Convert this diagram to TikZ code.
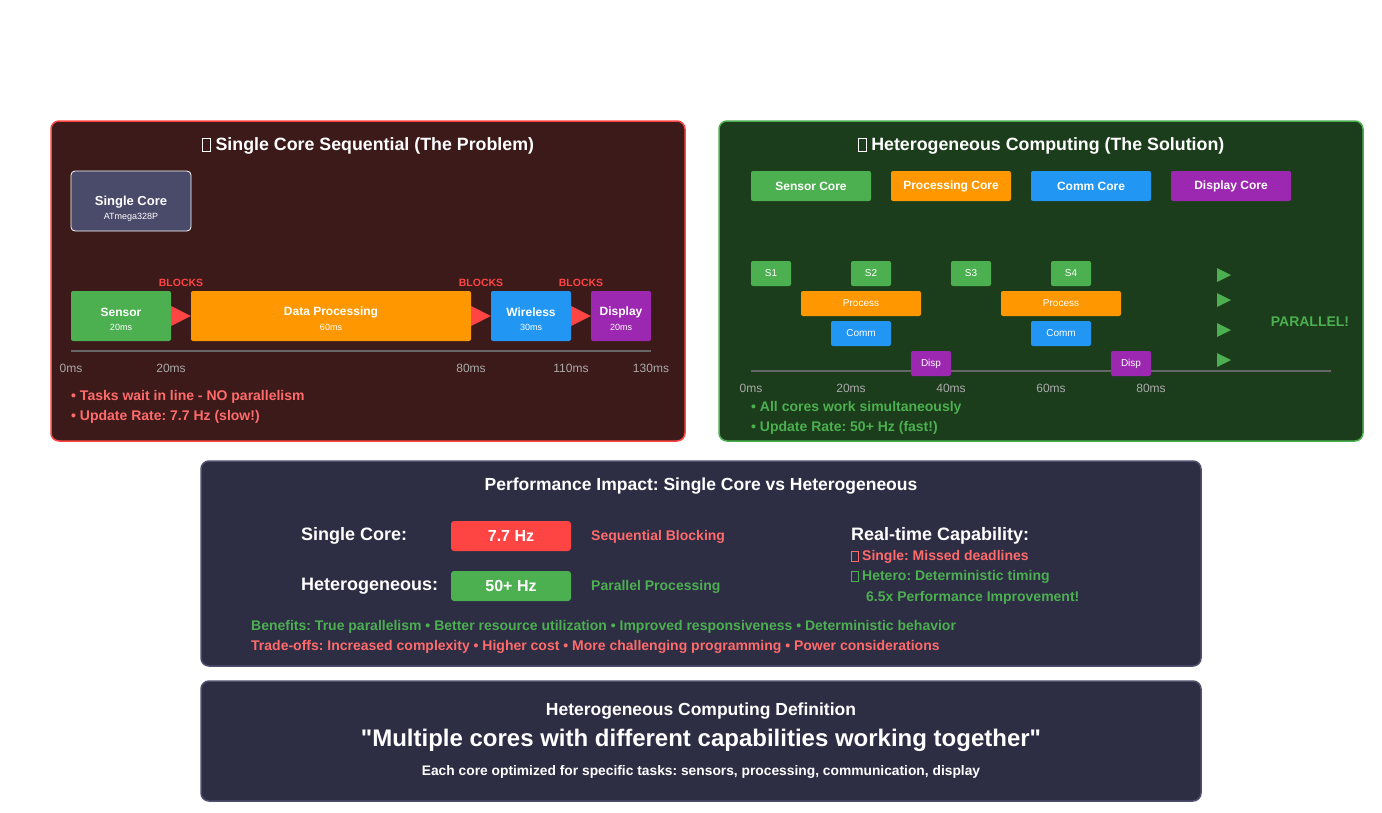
\documentclass[tikz,border=0pt]{standalone}
\usepackage{fontspec}
\setmainfont{Liberation Sans}[Ligatures=TeXOff]
\usetikzlibrary{positioning,calc}
\frenchspacing

\definecolor{redpanel}{HTML}{3C1A1A}
\definecolor{redline}{HTML}{FF4444}
\definecolor{redtext}{HTML}{FF6B6B}
\definecolor{greenpanel}{HTML}{1B3D1B}
\definecolor{taskgreen}{HTML}{4CAF50}
\definecolor{taskorange}{HTML}{FF9800}
\definecolor{taskblue}{HTML}{2196F3}
\definecolor{taskpurple}{HTML}{9C27B0}
\definecolor{navypanel}{HTML}{2D2D44}
\definecolor{navyline}{HTML}{50506E}
\definecolor{corebox}{HTML}{4A4A6A}
\definecolor{axisgray}{HTML}{666666}
\definecolor{ticktext}{HTML}{AAAAAA}

\newcommand{\px}[1]{\fontsize{#1}{#1}\selectfont}
\newcommand{\tofu}{\raisebox{-0.05em}{\fboxsep=0pt\fboxrule=0.6pt\fbox{\phantom{\rule{0.42em}{0.72em}}}}}

\tikzset{
  panel/.style={line width=1.5pt, rounded corners=8pt},
  box/.style={rounded corners=2pt, inner sep=0pt, text=white},
  lbl/.style={inner sep=0pt, text=white, font=\bfseries\px{12}},
  ptitle/.style={lbl, font=\bfseries\px{17.8}},
  tick/.style={inner sep=0pt, text=ticktext, font=\px{12}},
  note/.style={inner sep=0pt, anchor=west, font=\bfseries\px{14}},
  axis/.style={axisgray, line width=2pt}
}

\begin{document}
\begin{tikzpicture}[x=1pt, y=-1pt]
  \useasboundingbox[fill=white] (0,0) rectangle (1382,812);

  % Left panel: single core
  \draw[panel, draw=redline, fill=redpanel] (51,121) rectangle (685,441);
  \node[ptitle] (ltitle) at (368,146) {\tofu{} Single Core Sequential (The Problem)};

  \node[box, draw=white, line width=0.8pt, rounded corners=4pt, fill=corebox,
        minimum width=120, minimum height=60] (single) at (131,201) {};
  \node[lbl, font=\bfseries\px{13}] (single-name) at (131,202) {Single Core};
  \node[lbl, font=\px{9}] (single-chip) at (131,217) {ATmega328P};

  \foreach \nm/\txt/\t/\cx/\w/\col in {sens/Sensor/20ms/121/100/taskgreen,
      proc/Data Processing/60ms/331/280/taskorange,
      wire/Wireless/30ms/531/80/taskblue,
      disp/Display/20ms/621/60/taskpurple} {
    \node[box, fill=\col, minimum width=\w, minimum height=50] (\nm) at (\cx,316) {};
    \node[lbl] (\nm-name) at (\cx,312) {\txt};
    \node[lbl, font=\px{9}] (\nm-time) at (\cx,327) {\t};
  }

  % blocking arrows
  \foreach \a/\b in {sens/proc, proc/wire, wire/disp}
    \fill[redline] ($(\a.east)+(0,-10)$) -- (\b.west) -- ($(\a.east)+(0,10)$) -- cycle;
  \foreach \nm/\cx in {blk1/181, blk2/481, blk3/581}
    \node[inner sep=0pt, text=redline, font=\bfseries\px{10.5}] (\nm) at (\cx,283) {BLOCKS};

  \draw[axis] (71,351) -- (651,351);
  \foreach \nm/\cx/\t in {lt0/71/0ms, lt1/171/20ms, lt2/471/80ms, lt3/571/110ms, lt4/651/130ms}
    \node[tick] (\nm) at (\cx,368) {\t};

  \node[note, text=redtext] (lnote1) at (71,397) {\textbullet{} Tasks wait in line - NO parallelism};
  \node[note, text=redtext] (lnote2) at (71,417) {\textbullet{} Update Rate: 7.7 Hz (slow!)};

  % Right panel: heterogeneous
  \draw[panel, draw=taskgreen, fill=greenpanel] (719,121) rectangle (1363,441);
  \node[ptitle] (rtitle) at (1041,146) {\tofu{} Heterogeneous Computing (The Solution)};

  \foreach \nm/\txt/\cx/\col in {csens/Sensor Core/811/taskgreen,
      cproc/Processing Core/951/taskorange,
      ccomm/Comm Core/1091/taskblue,
      cdisp/Display Core/1231/taskpurple}
    \node[box, fill=\col, minimum width=120, minimum height=30, font=\bfseries\px{12}] (\nm) at (\cx,186) {\txt};

  \draw[axis] (751,371) -- (1331,371);
  \foreach \nm/\txt/\cx/\cy/\w/\col in {s1/S1/771/273.5/40/taskgreen, s2/S2/871/273.5/40/taskgreen,
      s3/S3/971/273.5/40/taskgreen, s4/S4/1071/273.5/40/taskgreen,
      p1/Process/861/303.5/120/taskorange, p2/Process/1061/303.5/120/taskorange,
      c1/Comm/861/333.5/60/taskblue, c2/Comm/1061/333.5/60/taskblue,
      d1/Disp/931/363.5/40/taskpurple, d2/Disp/1131/363.5/40/taskpurple}
    \node[box, fill=\col, minimum width=\w, minimum height=25, font=\px{10}] (\nm) at (\cx,\cy) {\txt};

  \foreach \nm/\cx/\t in {rt0/751/0ms, rt1/851/20ms, rt2/951/40ms, rt3/1051/60ms, rt4/1151/80ms}
    \node[tick] (\nm) at (\cx,388) {\t};

  \foreach \cy in {275, 300, 330, 360}
    \fill[taskgreen] (1217,\cy-7) -- (1231,\cy) -- (1217,\cy+7) -- cycle;
  \node[inner sep=0pt, text=taskgreen, font=\bfseries\px{14}] (parallel) at (1310,322) {PARALLEL!};

  \node[note, text=taskgreen] (rnote1) at (751,408) {\textbullet{} All cores work simultaneously};
  \node[note, text=taskgreen] (rnote2) at (751,428) {\textbullet{} Update Rate: 50+ Hz (fast!)};

  % Performance panel
  \draw[panel, draw=navyline, fill=navypanel] (201,461) rectangle (1201,666);
  \node[lbl, font=\bfseries\px{17.5}] (ptitle) at (701,486) {Performance Impact: Single Core vs Heterogeneous};

  \node[note, text=white, font=\bfseries\px{18}] (sclabel) at (301,536) {Single Core:};
  \node[box, fill=redline, rounded corners=3pt, minimum width=120, minimum height=30,
        font=\bfseries\px{16}] (screate) at (511,536) {7.7 Hz};
  \node[note, text=redtext] (scnote) at (591,537) {Sequential Blocking};

  \node[note, text=white, font=\bfseries\px{18}] (hclabel) at (301,586) {Heterogeneous:};
  \node[box, fill=taskgreen, rounded corners=3pt, minimum width=120, minimum height=30,
        font=\bfseries\px{16}] (hcrate) at (511,586) {50+ Hz};
  \node[note, text=taskgreen] (hcnote) at (591,587) {Parallel Processing};

  \node[note, text=white, font=\bfseries\px{18}] (rtcap) at (851,536) {Real-time Capability:};
  \node[note, text=redtext] (rtsingle) at (851,557) {\tofu{} Single: Missed deadlines};
  \node[note, text=taskgreen] (rthetero) at (851,577) {\tofu{} Hetero: Deterministic timing};
  \node[note, text=taskgreen] (rtgain) at (866,598) {6.5x Performance Improvement!};

  \node[note, text=taskgreen] (benefits) at (251,627)
    {Benefits: True parallelism \textbullet{} Better resource utilization \textbullet{} Improved responsiveness \textbullet{} Deterministic behavior};
  \node[note, text=redtext] (tradeoffs) at (251,647)
    {Trade-offs: Increased complexity \textbullet{} Higher cost \textbullet{} More challenging programming \textbullet{} Power considerations};

  % Definition panel
  \draw[panel, draw=navyline, fill=navypanel] (201,681) rectangle (1201,801);
  \node[lbl, font=\bfseries\px{17.5}] (dtitle) at (701,711) {Heterogeneous Computing Definition};
  \node[lbl, font=\bfseries\px{24}] (dquote) at (701,740) {"Multiple cores with different capabilities working together"};
  \node[lbl, font=\bfseries\px{13.8}] (dtext) at (701,772) {Each core optimized for specific tasks: sensors, processing, communication, display};
\end{tikzpicture}
\end{document}
